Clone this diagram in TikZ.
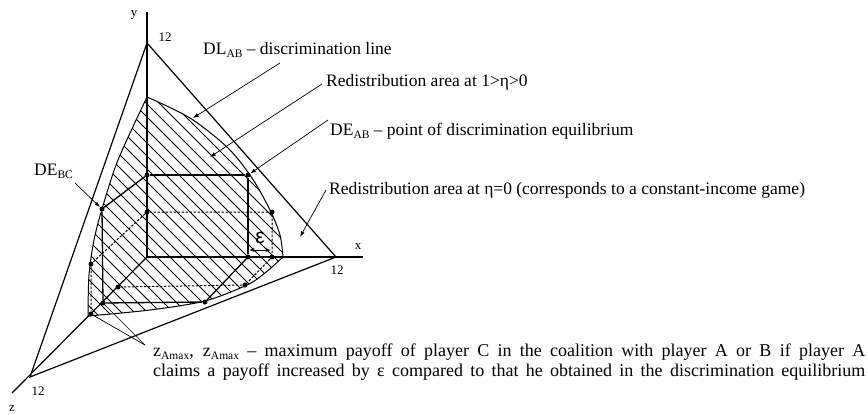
\documentclass[tikz,border=0pt]{standalone}
\usepackage{fontspec}
\setmainfont{Liberation Serif}
\newfontfamily\epsfont{Liberation Sans}
\usepackage{tikz}
\usetikzlibrary{arrows.meta}
\newcommand{\lowsub}[1]{\raisebox{-0.35ex}{\fontsize{11.5}{11.5}\selectfont #1}}
\tikzset{
  >={Latex[length=2mm,width=1.4mm]},
  axis/.style={line width=1.2pt},
  rim/.style={line width=1pt},
  hatch/.style={line width=1pt},
  boxline/.style={line width=1.3pt},
  dashline/.style={line width=1pt,dash pattern=on 2.5pt off 1.5pt},
  leader/.style={->,line width=0.7pt},
  tieline/.style={line width=0.7pt},
  dot/.style={circle,fill,inner sep=0pt,minimum size=5pt},
  lbl/.style={font=\fontsize{17.5}{18}\selectfont,inner sep=0pt,anchor=west},
  num/.style={font=\fontsize{13}{13}\selectfont,inner sep=0pt}
}
\def\redarea{plot[smooth] coordinates {(147,97) (190,118) (228,148) (252,178) (270,210) (280,235) (283,257)}
  -- plot[smooth] coordinates {(283,257) (265,273) (247,285) (205,301) (150,310) (88,316)}
  -- plot[smooth] coordinates {(88,316) (89,275) (94,240) (102,209) (118,160) (147,97)} -- cycle}

\begin{document}
\begin{tikzpicture}[x=1pt,y=-1pt]
  \useasboundingbox (0,0) rectangle (868,415);
  % axes and the plane of 12
  \coordinate (O) at (147,257);
  \coordinate (ytop) at (147,12);
  \coordinate (xend) at (363,257);
  \coordinate (zend) at (12,393);
  \coordinate (Y12) at (147,43);
  \coordinate (X12) at (336,257);
  \coordinate (Z12) at (30,377);
  % hatched redistribution area
  \begin{scope}
    \clip \redarea;
    \foreach \c in {-170,-157,...,250} \draw[hatch] (\c,60) -- ++(300,300);
  \end{scope}
  \draw[rim] \redarea;
  \draw[axis] (O) -- (ytop);
  \draw[axis] (O) -- (xend);
  \draw[axis] (O) -- (zend);
  \draw[axis] (Y12) -- (X12) -- (Z12) -- cycle;
  \node[num] (ylab) at (134,15) {y};
  \node[num] (xlab) at (358,247) {x};
  \node[num] (zlab) at (12,409) {z};
  \node[num] (y12) at (165,37) {12};
  \node[num] (x12) at (337,270) {12};
  \node[num] (z12) at (38,391) {12};
  % points
  \node[dot] (A1) at (147,175) {};
  \node[dot] (DEab) at (248,175) {};
  \node[dot] (Bx) at (248,257) {};
  \node[dot] (DEbc) at (102,209) {};
  \node[dot] (Bz) at (103,303) {};
  \node[dot] (Bxz) at (205,302) {};
  \node[dot] (D1) at (147,212) {};
  \node[dot] (D2) at (272,212) {};
  \node[dot] (D3) at (272,257) {};
  \node[dot] (D4) at (245,285) {};
  \node[dot] (D5) at (118,287) {};
  \node[dot] (D6) at (91,264) {};
  \node[dot] (D7) at (91,314) {};
  \draw[boxline] (A1) -- (DEab) -- (Bx);
  \draw[boxline] (A1) -- (DEbc) -- (Bz) -- (Bxz) -- (Bx);
  \draw[dashline] (D1) -- (D2) -- (D3) -- (D4) -- (D5);
  \draw[dashline] (D1) -- (D6) -- (D7);
  % epsilon
  \coordinate (e1) at (249,250);
  \coordinate (e2) at (271,250);
  \draw[<->,line width=0.9pt,>={Latex[length=1.8mm,width=1.4mm]}] (e1) -- (e2);
  \node[font=\epsfont\fontsize{21}{21}\selectfont,inner sep=0pt] (eps) at (260,238) {ε};
  % labels and leaders
  \node[lbl] (dltxt) at (203,50) {DL\lowsub{AB} – discrimination line};
  \node[lbl] (eta1txt) at (326,82) {Redistribution area at 1>η>0};
  \node[lbl] (deabtxt) at (330,131) {DE\lowsub{AB} – point of discrimination equilibrium};
  \node[lbl] (eta0txt) at (329,190) {Redistribution area at η=0 (corresponds to a constant-income game)};
  \node[lbl] (debctxt) at (34,171) {DE\lowsub{BC}};
  \node[lbl,font=\fontsize{18}{19.5}\selectfont,align=left] (zmaxtxt) at (153,362)
    {\makebox[712pt][s]{z\lowsub{Amax}, z\lowsub{Amax} – maximum payoff of player C in the coalition with player A or B if player A}\\
     \makebox[712pt][s]{claims a payoff increased by ε compared to that he obtained in the discrimination equilibrium}};
  \coordinate (l1) at (280,63);
  \coordinate (t1) at (193,118);
  \coordinate (l2) at (322,84);
  \coordinate (t2) at (210,157);
  \coordinate (l3) at (328,120);
  \coordinate (l4) at (326,190);
  \coordinate (t4) at (300,237);
  \coordinate (l5) at (75,183);
  \coordinate (zl) at (145,345);
  \draw[leader] (l1) -- (t1);
  \draw[leader] (l2) -- (t2);
  \draw[leader] (l3) -- (DEab);
  \draw[leader] (l4) -- (t4);
  \draw[leader] (l5) -- (DEbc);
  \draw[tieline] (zl) -- (D7);
  \draw[tieline] (zl) -- (Bz);
\end{tikzpicture}
\end{document}
